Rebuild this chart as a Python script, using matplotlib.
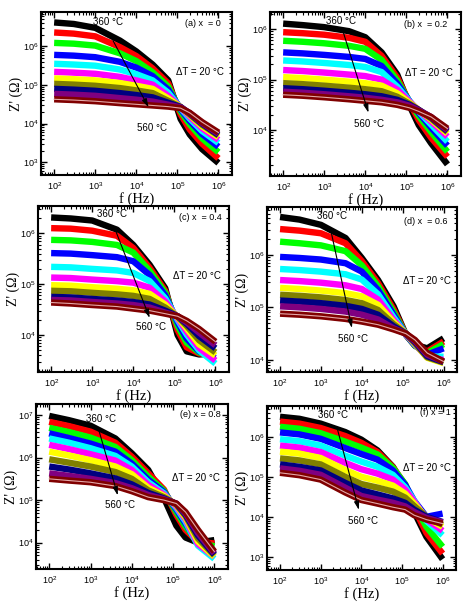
import numpy as np
import matplotlib
matplotlib.use('Agg')
import matplotlib.pyplot as plt
from matplotlib.ticker import LogLocator, FuncFormatter, NullFormatter

''' ---------------- data read off the figure ---------------- '''
freq = [1e2, 3e2, 1e3, 4e3, 1e4, 2.5e4, 6e4, 1.2e5, 2e5, 4e5, 1e6]
temps = [360, 380, 400, 420, 440, 460, 480, 500, 520, 540, 560]
colors = ['#000000', '#ff0000', '#00ff00', '#0000ff', '#00ffff', '#ff00ff',
          '#ffff00', '#808000', '#000080', '#800080', '#800000']

# log10 Z' (ohm), one row per temperature, one column per frequency
logz_a = [
    [6.62, 6.58, 6.48, 6.15, 5.87, 5.53, 5.12, 4.12, 3.72, 3.34, 2.98],
    [6.36, 6.33, 6.26, 5.98, 5.75, 5.43, 5.04, 4.24, 3.85, 3.48, 3.10],
    [6.09, 6.07, 6.02, 5.82, 5.62, 5.33, 4.96, 4.32, 3.98, 3.62, 3.26],
    [5.78, 5.76, 5.72, 5.60, 5.45, 5.23, 4.88, 4.37, 4.07, 3.73, 3.40],
    [5.55, 5.53, 5.50, 5.40, 5.28, 5.12, 4.80, 4.40, 4.13, 3.81, 3.50],
    [5.34, 5.32, 5.29, 5.21, 5.12, 5.01, 4.72, 4.42, 4.18, 3.88, 3.58],
    [5.17, 5.15, 5.12, 5.05, 4.98, 4.90, 4.65, 4.43, 4.22, 3.93, 3.65],
    [5.03, 5.01, 4.98, 4.92, 4.86, 4.79, 4.59, 4.43, 4.24, 3.97, 3.69],
    [4.90, 4.88, 4.85, 4.79, 4.74, 4.68, 4.54, 4.43, 4.26, 4.00, 3.71],
    [4.77, 4.75, 4.72, 4.66, 4.62, 4.57, 4.49, 4.42, 4.27, 4.02, 3.74],
    [4.63, 4.61, 4.58, 4.53, 4.50, 4.47, 4.44, 4.40, 4.28, 4.04, 3.77]]
logz_b = [
    [6.11, 6.08, 6.04, 5.96, 5.84, 5.54, 5.10, 4.48, 4.10, 3.74, 3.32],
    [5.94, 5.92, 5.89, 5.83, 5.75, 5.47, 5.04, 4.54, 4.20, 3.85, 3.47],
    [5.77, 5.75, 5.72, 5.67, 5.61, 5.39, 4.98, 4.56, 4.28, 3.96, 3.57],
    [5.54, 5.52, 5.49, 5.45, 5.41, 5.27, 4.92, 4.57, 4.34, 4.05, 3.69],
    [5.38, 5.36, 5.33, 5.29, 5.25, 5.15, 4.86, 4.57, 4.37, 4.11, 3.77],
    [5.19, 5.17, 5.14, 5.10, 5.07, 5.00, 4.80, 4.56, 4.39, 4.17, 3.87],
    [5.05, 5.03, 5.00, 4.96, 4.93, 4.88, 4.73, 4.54, 4.40, 4.21, 3.93],
    [4.93, 4.91, 4.88, 4.84, 4.81, 4.77, 4.66, 4.52, 4.40, 4.23, 3.96],
    [4.83, 4.81, 4.78, 4.74, 4.71, 4.67, 4.60, 4.50, 4.40, 4.25, 3.98],
    [4.76, 4.74, 4.71, 4.67, 4.64, 4.60, 4.55, 4.48, 4.39, 4.26, 4.00],
    [4.70, 4.68, 4.65, 4.61, 4.58, 4.55, 4.50, 4.44, 4.37, 4.26, 4.03]]
logz_c = [
    [6.31, 6.29, 6.25, 6.07, 5.77, 5.38, 4.92, 4.00, 3.68, 3.62, 3.64],
    [6.10, 6.09, 6.05, 5.95, 5.71, 5.32, 4.87, 4.10, 3.76, 3.64, 3.62],
    [5.87, 5.86, 5.83, 5.77, 5.62, 5.26, 4.83, 4.18, 3.85, 3.66, 3.58],
    [5.61, 5.60, 5.57, 5.53, 5.45, 5.18, 4.78, 4.25, 3.93, 3.68, 3.55],
    [5.34, 5.33, 5.30, 5.27, 5.22, 5.06, 4.72, 4.30, 4.01, 3.70, 3.44],
    [5.13, 5.12, 5.09, 5.06, 5.03, 4.93, 4.66, 4.33, 4.07, 3.75, 3.50],
    [4.98, 4.97, 4.94, 4.91, 4.88, 4.81, 4.60, 4.35, 4.13, 3.82, 3.60],
    [4.87, 4.86, 4.83, 4.80, 4.77, 4.71, 4.54, 4.36, 4.18, 3.90, 3.66],
    [4.75, 4.74, 4.71, 4.68, 4.65, 4.60, 4.48, 4.37, 4.22, 3.98, 3.74],
    [4.69, 4.68, 4.65, 4.62, 4.59, 4.54, 4.44, 4.37, 4.25, 4.05, 3.80],
    [4.64, 4.62, 4.59, 4.56, 4.52, 4.48, 4.42, 4.37, 4.28, 4.12, 3.87]]
logz_d = [
    [6.72, 6.67, 6.57, 6.32, 5.94, 5.52, 5.02, 4.48, 4.29, 4.22, 4.41],
    [6.49, 6.46, 6.41, 6.22, 5.88, 5.46, 4.96, 4.48, 4.27, 4.16, 4.35],
    [6.25, 6.22, 6.18, 6.07, 5.80, 5.40, 4.91, 4.48, 4.27, 4.13, 4.30],
    [5.96, 5.94, 5.91, 5.84, 5.68, 5.33, 4.86, 4.48, 4.28, 4.10, 4.22],
    [5.73, 5.71, 5.68, 5.63, 5.53, 5.25, 4.81, 4.49, 4.29, 4.07, 4.06],
    [5.52, 5.50, 5.47, 5.42, 5.35, 5.15, 4.76, 4.49, 4.30, 4.05, 4.00],
    [5.37, 5.35, 5.32, 5.27, 5.21, 5.05, 4.72, 4.50, 4.31, 4.04, 3.94],
    [5.24, 5.22, 5.19, 5.14, 5.08, 4.95, 4.68, 4.50, 4.32, 4.05, 3.95],
    [5.13, 5.11, 5.08, 5.03, 4.97, 4.86, 4.64, 4.50, 4.34, 4.07, 3.96],
    [5.02, 5.00, 4.97, 4.92, 4.86, 4.77, 4.60, 4.50, 4.36, 4.10, 3.97],
    [4.88, 4.86, 4.83, 4.78, 4.73, 4.67, 4.58, 4.50, 4.38, 4.13, 3.97]]
logz_e = [
    [6.98, 6.88, 6.75, 6.45, 6.10, 5.71, 5.05, 4.40, 4.12, 4.00, 4.06],
    [6.84, 6.74, 6.61, 6.35, 6.02, 5.63, 5.25, 4.65, 4.30, 4.02, 3.98],
    [6.70, 6.60, 6.47, 6.25, 5.94, 5.55, 5.22, 4.72, 4.38, 4.02, 3.91],
    [6.57, 6.46, 6.33, 6.14, 5.86, 5.48, 5.19, 4.78, 4.45, 3.98, 3.79],
    [6.45, 6.35, 6.22, 6.04, 5.79, 5.42, 5.16, 4.82, 4.50, 3.93, 3.62],
    [6.30, 6.20, 6.08, 5.93, 5.71, 5.36, 5.13, 4.85, 4.55, 3.97, 3.67],
    [6.14, 6.05, 5.94, 5.79, 5.61, 5.29, 5.10, 4.88, 4.59, 4.03, 3.67],
    [5.96, 5.88, 5.79, 5.66, 5.50, 5.23, 5.07, 4.90, 4.63, 4.10, 3.70],
    [5.79, 5.72, 5.63, 5.51, 5.37, 5.17, 5.04, 4.91, 4.66, 4.17, 3.72],
    [5.63, 5.57, 5.50, 5.40, 5.28, 5.12, 5.02, 4.92, 4.69, 4.23, 3.75],
    [5.50, 5.46, 5.42, 5.33, 5.21, 5.07, 5.00, 4.92, 4.72, 4.30, 3.79]]
logz_f = [
    [6.50, 6.45, 6.33, 6.12, 5.93, 5.66, 5.25, 4.73, 4.12, 3.50, 2.94],
    [6.38, 6.33, 6.22, 6.02, 5.85, 5.62, 5.24, 4.80, 4.22, 3.60, 3.08],
    [6.25, 6.20, 6.09, 5.88, 5.73, 5.56, 5.22, 4.82, 4.30, 3.75, 3.25],
    [6.11, 6.06, 5.95, 5.72, 5.57, 5.43, 5.16, 4.80, 4.40, 4.00, 4.08],
    [5.94, 5.89, 5.78, 5.53, 5.38, 5.25, 5.05, 4.74, 4.40, 3.90, 3.54],
    [5.78, 5.73, 5.62, 5.35, 5.19, 5.08, 4.93, 4.68, 4.38, 3.94, 3.65],
    [5.63, 5.58, 5.47, 5.17, 5.00, 4.90, 4.78, 4.58, 4.33, 3.98, 3.75],
    [5.46, 5.41, 5.31, 5.00, 4.82, 4.73, 4.63, 4.48, 4.27, 4.00, 3.80],
    [5.31, 5.25, 5.16, 4.85, 4.66, 4.56, 4.46, 4.35, 4.18, 4.00, 3.87],
    [5.21, 5.15, 5.05, 4.73, 4.52, 4.43, 4.35, 4.26, 4.12, 3.97, 3.86],
    [5.10, 5.04, 4.93, 4.61, 4.42, 4.33, 4.24, 4.18, 4.04, 3.93, 3.83]]

panel_tags = ['(a) x  = 0', '(b) x  = 0.2', '(c) x  = 0.4',
              '(d) x  = 0.6', '(e) x = 0.8', '(f) x = 1']

''' ---------------- layout / style ---------------- '''
W, H = 471, 609
# axes boxes in pixels: left, top, right, bottom
boxes = [(41, 12, 232, 175), (270, 12, 461, 176),
         (38, 206, 229, 372), (267, 207, 457, 372),
         (36, 404, 228, 569), (267, 406, 456, 570)]
ylims = [(2.67, 6.89), (3.09, 6.34), (3.275, 6.535),
         (3.77, 6.91), (3.38, 7.26), (2.67, 6.77)]
xlim = (10**1.68, 10**6.33)
# annotation spots in axes fraction
t360 = [(0.35, 0.94), (0.37, 0.945), (0.39, 0.95), (0.34, 0.945), (0.34, 0.91), (0.35, 0.945)]
arr0 = [(0.37, 0.84), (0.38, 0.89), (0.40, 0.87), (0.33, 0.89), (0.32, 0.87), (0.37, 0.87)]
arr1 = [(0.57, 0.40), (0.52, 0.37), (0.59, 0.31), (0.45, 0.25), (0.43, 0.43), (0.49, 0.35)]
t560 = [(0.58, 0.29), (0.52, 0.32), (0.59, 0.27), (0.45, 0.20), (0.44, 0.39), (0.51, 0.30)]
tag_y = [0.93, 0.925, 0.93, 0.91, 0.935, 0.96]
tag_x = [0.94, 0.93, 0.96, 0.95, 0.96, 0.97]
dT_y = [0.63, 0.63, 0.58, 0.55, 0.55, 0.62]
dT_x = [0.96, 0.955, 0.96, 0.97, 0.96, 0.975]

plt.rcParams['font.family'] = ['Liberation Sans', 'DejaVu Sans']
plt.rcParams['mathtext.default'] = 'regular'

def sci_fmt(v, p):
    return r'$\mathregular{10^{%d}}$' % int(round(np.log10(v)))

def style_ax(ax, ylim):
    ax.set_xscale('log')
    ax.set_yscale('log')
    ax.set_xlim(xlim)
    ax.set_ylim(10**ylim[0], 10**ylim[1])
    for ax_ in (ax.xaxis, ax.yaxis):
        ax_.set_major_locator(LogLocator(base=10, numticks=12))
        ax_.set_minor_locator(LogLocator(base=10, subs=np.arange(2, 10), numticks=12))
        ax_.set_major_formatter(FuncFormatter(sci_fmt))
        ax_.set_minor_formatter(NullFormatter())
    ax.tick_params(which='both', direction='in', top=True, right=True, labelsize=6.5)
    ax.tick_params(axis='x', pad=3.5)
    ax.tick_params(axis='y', pad=2)
    ax.tick_params(which='major', length=4, width=1)
    ax.tick_params(which='minor', length=2, width=0.8)
    for s in ax.spines.values():
        s.set_linewidth(1.5)
    ax.set_xlabel('f (Hz)', family='Liberation Serif', fontsize=10.5, labelpad=0)
    ax.set_ylabel("Z' (\u03a9)", family='Liberation Serif', fontsize=10, labelpad=0)

''' ---------------- main ---------------- '''
fig = plt.figure(figsize=(W / 100, H / 100), dpi=100)
all_z = [logz_a, logz_b, logz_c, logz_d, logz_e, logz_f]

for k in range(6):
    l, t, r, b = boxes[k]
    ax = fig.add_axes([l / W, 1 - b / H, (r - l) / W, (b - t) / H])
    for i in range(len(temps)):
        z = 10**np.array(all_z[k][i])
        ax.plot(freq, z, color=colors[i], lw=4.6, solid_joinstyle='round',
                solid_capstyle='butt', zorder=2 + i * 0.01)
    # fit line drawn through the last curve
    ax.plot(freq, 10**np.array(all_z[k][-1]), color='#e3a8a8', lw=0.8, zorder=3)
    style_ax(ax, ylims[k])

    ax.text(*t360[k], '%d \u00b0C' % temps[0], transform=ax.transAxes,
            ha='center', va='center', fontsize=7)
    ax.text(*t560[k], '%d \u00b0C' % temps[-1], transform=ax.transAxes,
            ha='center', va='center', fontsize=7)
    ax.annotate('', xy=arr1[k], xytext=arr0[k], xycoords='axes fraction',
                arrowprops=dict(arrowstyle='-|>,head_length=0.5,head_width=0.15',
                                color='k', lw=0.8), zorder=5)
    ax.text(tag_x[k], tag_y[k], panel_tags[k], transform=ax.transAxes,
            ha='right', va='center', fontsize=6.5)
    ax.text(dT_x[k], dT_y[k], '\u0394T = 20 \u00b0C', transform=ax.transAxes,
            ha='right', va='center', fontsize=7)
    if k == 2:
        # stray label partly hidden behind the curves in the original
        ax.text(0.19, 0.43, '560 \u00b0C', transform=ax.transAxes,
                ha='center', va='center', fontsize=7, zorder=1)

fig.savefig('out.png', dpi=100)
